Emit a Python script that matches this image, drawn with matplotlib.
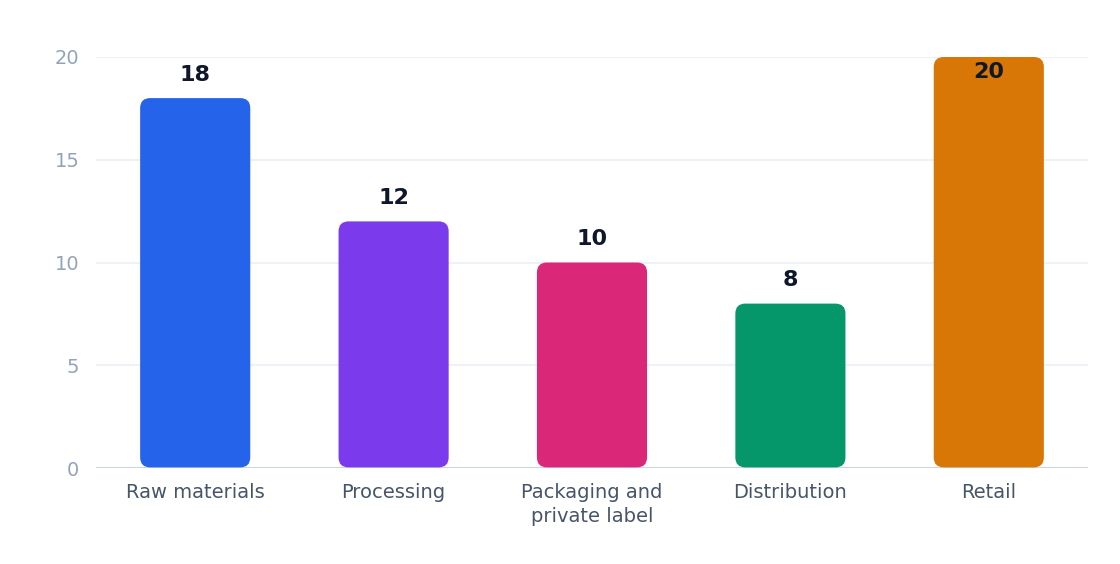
import matplotlib
matplotlib.use("Agg")
import matplotlib.pyplot as plt
from matplotlib.patches import FancyBboxPatch

categories = ["Raw materials", "Processing", "Packaging and\nprivate label", "Distribution", "Retail"]
values = [18, 12, 10, 8, 20]
colors = ["#2563eb", "#7c3aed", "#db2777", "#059669", "#d97706"]
yticks = [0, 5, 10, 15, 20]

plt.rcParams["font.family"] = ["DejaVu Sans"]

fig = plt.figure(figsize=(11.2, 5.64), dpi=100)
ax = fig.add_axes([96 / 1120, 96 / 564, 992 / 1120, 411 / 564])
ax.set_xlim(-0.5, len(categories) - 0.5)
ax.set_ylim(0, 20)

for s in ax.spines.values():
    s.set_visible(False)

for t in yticks[1:]:
    ax.axhline(t, color="#eef2f6", lw=1.5, zorder=0)
ax.axhline(0, color="#cbd5e1", lw=2.2, zorder=1)

# px per data unit, to keep the corner radius round
px_x = 992 / len(categories)
px_y = 411 / 20
radius_px = 10
width = 0.555

for i, (v, c) in enumerate(zip(values, colors)):
    box = FancyBboxPatch((i - width / 2, 0.03), width, v - 0.03,
                         boxstyle=f"round,pad=0,rounding_size={radius_px / px_x}",
                         mutation_aspect=px_x / px_y,
                         fc=c, ec="none", zorder=2)
    ax.add_patch(box)
    if v * px_y + 23 + 10 > 411:
        ax.annotate(str(v), (i, 20), xytext=(0, -15 * 0.72), textcoords="offset points",
                    ha="center", va="center", fontsize=16, fontweight="bold",
                    color="#0f172a", zorder=4)
    else:
        ax.annotate(str(v), (i, v), xytext=(0, 23.5 * 0.72), textcoords="offset points",
                    ha="center", va="center", fontsize=16, fontweight="bold",
                    color="#0f172a", zorder=4)

ax.set_xticks(range(len(categories)))
ax.set_xticklabels(categories, fontsize=14, color="#475569", linespacing=1.3)
ax.set_yticks(yticks)
ax.set_yticklabels([str(t) for t in yticks], fontsize=14, color="#94a3b8")
ax.tick_params(axis="both", length=0)
ax.tick_params(axis="x", pad=11)
ax.tick_params(axis="y", pad=12)

fig.savefig("out.png", dpi=100, facecolor="white")
